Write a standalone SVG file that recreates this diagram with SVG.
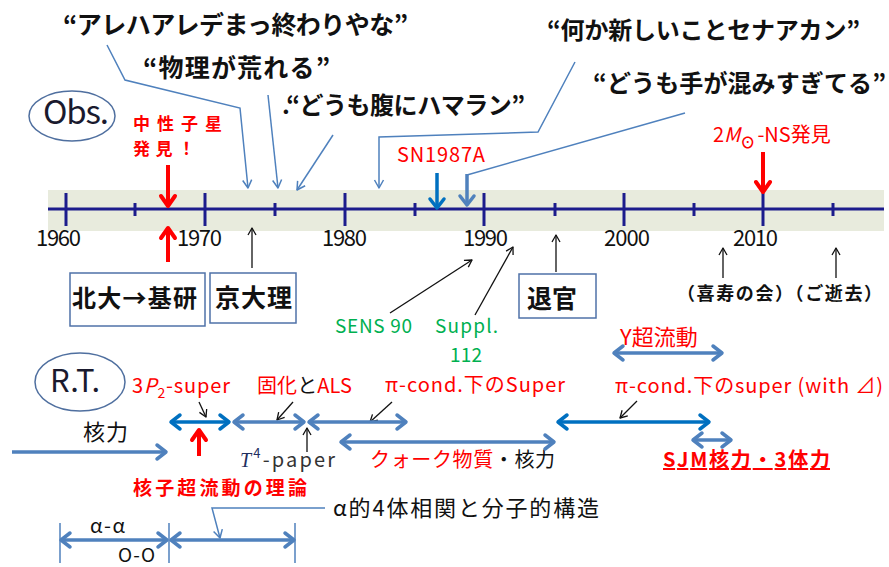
<svg xmlns="http://www.w3.org/2000/svg" width="889" height="567" viewBox="0 0 889 567">
<style>
text { font-family: "Noto Sans CJK JP", "Liberation Sans", sans-serif; }
.q { font-weight: 700; fill: #111; }
.yr { font-size: 22px; fill: #111; }
.red { fill: #ff0000; }
.blk { fill: #111; }
.grn { fill: #00b050; font-size: 19px; }
.bold { font-weight: 700; }
.thin { fill: none; stroke: #4f81bd; stroke-width: 1.5; }
.thinb { fill: none; stroke: #111; stroke-width: 1.3; }
.dbl { fill: none; stroke: #4f81bd; stroke-width: 3.5; }
.dbld { fill: none; stroke: #0070c0; stroke-width: 3.5; }
.redarr { fill: none; stroke: #ff0000; stroke-width: 4; }
.tick { stroke: #1c1c8c; stroke-width: 3; }
.box { fill: #fff; stroke: #4f72a8; stroke-width: 1.5; }
.ell { fill: none; stroke: #4f6f9f; stroke-width: 1.5; }
</style>
<defs>
<marker id="mThin" markerUnits="userSpaceOnUse" orient="auto" overflow="visible" markerWidth="1" markerHeight="1">
<path d="M-8,-4.5 L0,0 L-8,4.5" fill="none" stroke="#4f81bd" stroke-width="1.5" stroke-linejoin="round"/>
</marker>
<marker id="mBlk" markerUnits="userSpaceOnUse" orient="auto" overflow="visible" markerWidth="1" markerHeight="1">
<path d="M-7,-4 L0,0 L-7,4" fill="none" stroke="#111" stroke-width="1.3" stroke-linejoin="round"/>
</marker>
<marker id="mBl" markerUnits="userSpaceOnUse" orient="auto-start-reverse" overflow="visible" markerWidth="1" markerHeight="1">
<path d="M-9,-7 L0,0 L-9,7" fill="none" stroke="#4f81bd" stroke-width="3.5" stroke-linejoin="round" stroke-linecap="round"/>
</marker>
<marker id="mDk" markerUnits="userSpaceOnUse" orient="auto-start-reverse" overflow="visible" markerWidth="1" markerHeight="1">
<path d="M-9,-7 L0,0 L-9,7" fill="none" stroke="#0070c0" stroke-width="3.5" stroke-linejoin="round" stroke-linecap="round"/>
</marker>
<marker id="mRed" markerUnits="userSpaceOnUse" orient="auto" overflow="visible" markerWidth="1" markerHeight="1">
<path d="M-10,-7 L0,0 L-10,7" fill="none" stroke="#ff0000" stroke-width="4" stroke-linejoin="round" stroke-linecap="round"/>
</marker>
</defs>

<!-- timeline band -->
<g id="timeline">
<rect x="48" y="190" width="836" height="41" fill="#e8ebdd"/>
<line x1="48" y1="209" x2="884" y2="209" stroke="#1c1c8c" stroke-width="3"/>
<line class="tick" x1="66" y1="193" x2="66" y2="226"/>
<line class="tick" x1="205" y1="193" x2="205" y2="226"/>
<line class="tick" x1="345" y1="193" x2="345" y2="226"/>
<line class="tick" x1="484" y1="193" x2="484" y2="226"/>
<line class="tick" x1="624" y1="193" x2="624" y2="226"/>
<line class="tick" x1="763" y1="193" x2="763" y2="226"/>
<line class="tick" x1="135" y1="203" x2="135" y2="216"/>
<line class="tick" x1="275" y1="203" x2="275" y2="216"/>
<line class="tick" x1="415" y1="203" x2="415" y2="216"/>
<line class="tick" x1="555" y1="203" x2="555" y2="216"/>
<line class="tick" x1="694" y1="203" x2="694" y2="216"/>
<line class="tick" x1="833" y1="203" x2="833" y2="216"/>
<text class="yr" x="36" y="246" textLength="45">1960</text>
<text class="yr" x="177" y="246" textLength="45">1970</text>
<text class="yr" x="322" y="246" textLength="45">1980</text>
<text class="yr" x="463" y="246" textLength="45">1990</text>
<text class="yr" x="604" y="246" textLength="46">2000</text>
<text class="yr" x="733" y="246" textLength="45">2010</text>
</g>

<g id="obs">
<ellipse class="ell" cx="72" cy="116" rx="43" ry="25"/>
<text x="43" y="124" font-size="33" fill="#1a1a2e" textLength="66">Obs.</text>
</g>
<g id="rt">
<ellipse class="ell" cx="80" cy="382" rx="45" ry="29"/>
<text x="50" y="392" font-size="31" fill="#1a1a2e" textLength="50">R.T.</text>
</g>

<!-- quotes -->
<g id="quote1"><text class="q" x="63" y="34" font-size="25" textLength="345">“アレハアレデまっ終わりやな”</text></g>
<g id="quote2"><text class="q" x="143" y="77" font-size="25" textLength="187">“物理が荒れる”</text></g>
<g id="quote3"><text class="q" x="282" y="114" font-size="24" textLength="243">.“どうも腹にハマラン”</text></g>
<g id="quote4"><text class="q" x="547" y="39" font-size="24" textLength="313">“何か新しいことセナアカン”</text></g>
<g id="quote5"><text class="q" x="593" y="92" font-size="24" textLength="293">“どうも手が混みすぎてる”</text></g>

<!-- observation labels -->
<g id="ns-discovery">
<text class="red bold" font-size="17"><tspan x="133" y="130" textLength="89">中性子星</tspan><tspan x="133" y="155" textLength="62">発見！</tspan></text>
</g>
<g id="sn1987a"><text class="red" x="397" y="162" font-size="20" textLength="88">SN1987A</text></g>
<g id="ns2m">
<text class="red" x="713" y="142" font-size="20">2<tspan font-style="italic">M</tspan><tspan font-size="15" font-weight="700" dy="6">⊙</tspan><tspan dy="-6" dx="2">-NS発見</tspan></text>
</g>

<!-- boxes -->
<g id="hokudai">
<rect class="box" x="70" y="273" width="135" height="53"/>
<text class="blk bold" x="72" y="307" font-size="24" textLength="125">北大→基研</text>
</g>
<g id="kyodai">
<rect class="box" x="210" y="273" width="86" height="50"/>
<text class="blk bold" x="215" y="307" font-size="25" textLength="77">京大理</text>
</g>
<g id="taikan">
<rect class="box" x="519" y="274" width="77" height="44"/>
<text class="blk bold" x="527" y="308" font-size="25" textLength="50">退官</text>
</g>
<g id="kiju"><text class="blk bold" x="677" y="300" font-size="18" textLength="205">（喜寿の会）（ご逝去）</text></g>

<g id="sens90"><text class="grn" x="335" y="333" textLength="77">SENS 90</text></g>
<g id="suppl">
<text class="grn" x="435" y="333" textLength="63">Suppl.</text>
<text class="grn" x="450" y="362" textLength="32">112</text>
</g>

<!-- R.T. labels -->
<g id="ysuper"><text class="red" x="620" y="345" font-size="22">Y超流動</text></g>
<g id="p2super"><text class="red" x="132" y="393" font-size="20" textLength="98">3<tspan font-style="italic">P</tspan><tspan font-size="14" dy="5">2</tspan><tspan dy="-5">-super</tspan></text></g>
<g id="koka"><text x="257" y="393" font-size="20" textLength="95"><tspan class="red">固化</tspan><tspan class="blk">と</tspan><tspan class="red">ALS</tspan></text></g>
<g id="picond1"><text class="red" x="385" y="392" font-size="20" textLength="180">π-cond.下のSuper</text></g>
<g id="picond2"><text class="red" x="615" y="393" font-size="20" textLength="268">π-cond.下のsuper (with ⊿)</text></g>
<g id="kakuryoku"><text class="blk" x="83" y="440" font-size="22" textLength="45">核力</text></g>
<g id="t4paper"><text x="240" y="467" font-size="20" fill="#333" textLength="95"><tspan font-family="Liberation Serif, serif" font-style="italic" fill="#1f2f5f">T</tspan><tspan font-size="13" dy="-9" fill="#1f2f5f">4</tspan><tspan dy="9">-paper</tspan></text></g>
<g id="nucleon-theory"><text class="red bold" x="133" y="495" font-size="19" textLength="174">核子超流動の理論</text></g>
<g id="quark"><text x="370" y="467" font-size="20" textLength="185"><tspan class="red">クォーク物質</tspan><tspan class="blk">・核力</tspan></text></g>
<g id="sjm"><text class="red bold" x="663" y="467" font-size="20" text-decoration="underline" textLength="167">SJM核力・3体力</text></g>
<g id="alpha4"><text class="blk" x="333" y="516" font-size="22" textLength="266">α的4体相関と分子的構造</text></g>
<g id="aa"><text class="blk" x="90" y="533" font-size="20" textLength="35">α-α</text></g>
<g id="oo"><text class="blk" x="118" y="562" font-size="19" textLength="37">O-O</text></g>

<!-- connectors -->
<g id="connectors">
<polyline class="thin" points="107,45 125,80 240,108 248,188" marker-end="url(#mThin)"/>
<line class="thin" x1="268" y1="95" x2="278" y2="188" marker-end="url(#mThin)"/>
<line class="thin" x1="333" y1="135" x2="297" y2="190" marker-end="url(#mThin)"/>
<polyline class="thin" points="575,62 538,132 379,137 379,188" marker-end="url(#mThin)"/>
<polyline class="thin" points="685,113 467,175"/>
<line class="dbl" x1="467" y1="174" x2="467" y2="205" stroke-width="3" marker-end="url(#mBl)"/>
<line class="dbld" x1="437" y1="173" x2="437" y2="208" stroke-width="4" marker-end="url(#mDk)"/>

<line class="redarr" x1="168" y1="165" x2="168" y2="206" marker-end="url(#mRed)"/>
<line class="redarr" x1="168" y1="262" x2="168" y2="228" marker-end="url(#mRed)"/>
<line class="redarr" x1="763" y1="152" x2="763" y2="192" marker-end="url(#mRed)"/>
<line class="redarr" x1="199" y1="456" x2="199" y2="430" marker-end="url(#mRed)"/>

<line class="thinb" x1="252" y1="268" x2="252" y2="228" marker-end="url(#mBlk)"/>
<line class="thinb" x1="556" y1="272" x2="556" y2="235" marker-end="url(#mBlk)"/>
<line class="thinb" x1="723" y1="278" x2="723" y2="248" marker-end="url(#mBlk)"/>
<line class="thinb" x1="836" y1="278" x2="836" y2="248" marker-end="url(#mBlk)"/>
<line class="thinb" x1="390" y1="313" x2="472" y2="260" marker-end="url(#mBlk)"/>
<line class="thinb" x1="475" y1="315" x2="513" y2="247" marker-end="url(#mBlk)"/>

<line class="thinb" x1="199" y1="402" x2="206" y2="417" marker-end="url(#mBlk)"/>
<line class="thinb" x1="293" y1="402" x2="277" y2="420" marker-end="url(#mBlk)"/>
<line class="thinb" x1="392" y1="402" x2="370" y2="422" marker-end="url(#mBlk)"/>
<line class="thinb" x1="637" y1="401" x2="620" y2="418" marker-end="url(#mBlk)"/>
<line class="thinb" x1="307" y1="452" x2="307" y2="428" marker-end="url(#mBlk)"/>

<line class="dbld" x1="171" y1="422" x2="229" y2="422" marker-start="url(#mDk)" marker-end="url(#mDk)"/>
<line class="dbl" x1="234" y1="422" x2="304" y2="422" marker-start="url(#mBl)" marker-end="url(#mBl)"/>
<line class="dbl" x1="309" y1="422" x2="406" y2="422" marker-start="url(#mBl)" marker-end="url(#mBl)"/>
<line class="dbld" x1="558" y1="422" x2="709" y2="422" marker-start="url(#mDk)" marker-end="url(#mDk)"/>
<line class="dbl" x1="614" y1="353" x2="722" y2="353" marker-start="url(#mBl)" marker-end="url(#mBl)"/>
<line class="dbl" x1="693" y1="440" x2="731" y2="440" marker-start="url(#mBl)" marker-end="url(#mBl)"/>
<line class="dbl" x1="341" y1="442" x2="554" y2="442" marker-start="url(#mBl)" marker-end="url(#mBl)"/>
<line class="dbl" x1="12" y1="452" x2="166" y2="452" marker-end="url(#mBl)"/>

<polyline class="thin" points="325,508 212,508 220,538" marker-end="url(#mThin)"/>
<line class="dbl" x1="61" y1="540" x2="167" y2="540" stroke-width="3" marker-start="url(#mBl)" marker-end="url(#mBl)"/>
<line class="dbl" x1="171" y1="540" x2="294" y2="540" stroke-width="3" marker-start="url(#mBl)" marker-end="url(#mBl)"/>
<line class="thin" x1="60" y1="523" x2="60" y2="563"/>
<line class="thin" x1="169" y1="523" x2="169" y2="563"/>
<line class="thin" x1="295" y1="523" x2="295" y2="563"/>
</g>
</svg>
